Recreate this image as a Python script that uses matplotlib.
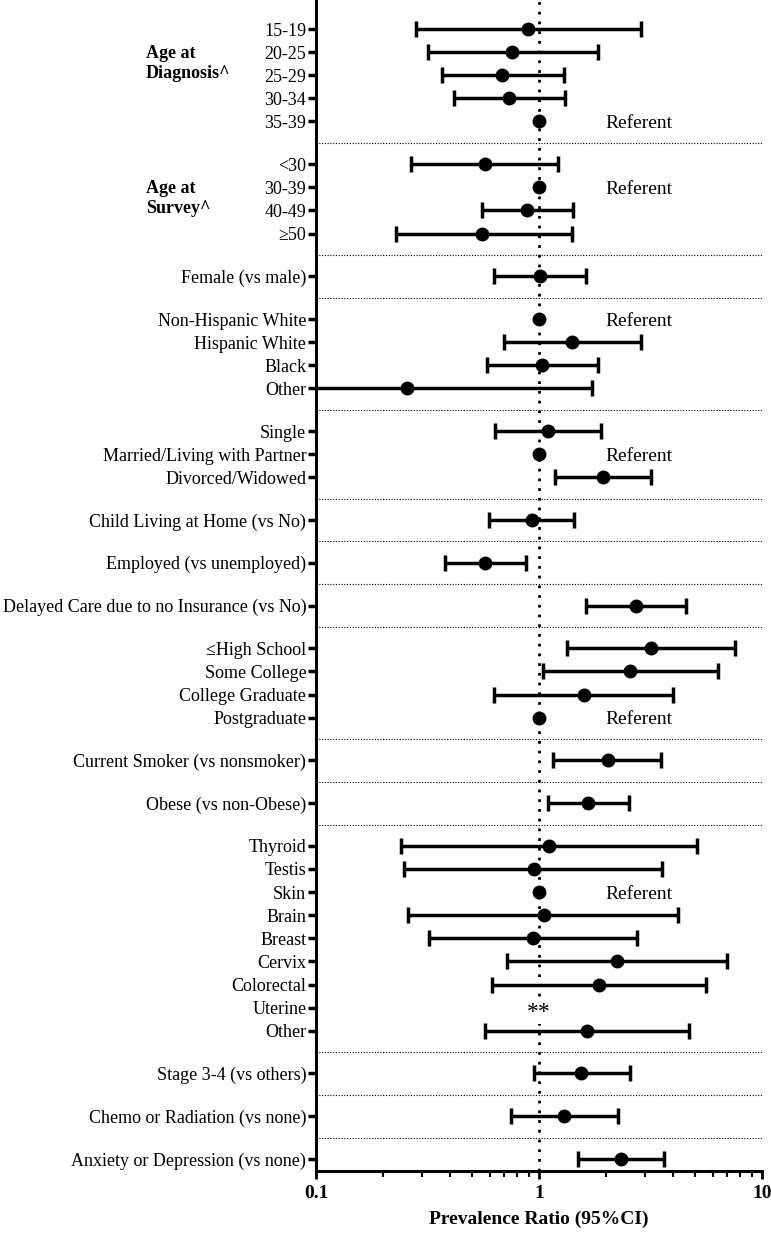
import numpy as np
import matplotlib
matplotlib.use("Agg")
import matplotlib.pyplot as plt

# ---------------- data ----------------
labels = ["15-19", "20-25", "25-29", "30-34", "35-39",
          "<30", "30-39", "40-49", "\u226550",
          "Female (vs male)",
          "Non-Hispanic White", "Hispanic White", "Black", "Other",
          "Single", "Married/Living with Partner", "Divorced/Widowed",
          "Child Living at Home (vs No)",
          "Employed (vs unemployed)",
          "Delayed Care due to no Insurance (vs No)",
          "\u2264High School", "Some College", "College Graduate", "Postgraduate",
          "Current Smoker (vs nonsmoker)",
          "Obese (vs non-Obese)",
          "Thyroid", "Testis", "Skin", "Brain", "Breast", "Cervix", "Colorectal", "Uterine", "Other",
          "Stage 3-4 (vs others)",
          "Chemo or Radiation (vs none)",
          "Anxiety or Depression (vs none)"]
group_sizes = [5, 4, 1, 4, 3, 1, 1, 1, 4, 1, 1, 9, 1, 1, 1]

pr = [0.89, 0.76, 0.68, 0.73, 1.0,
      0.57, 1.0, 0.88, 0.555,
      1.01,
      1.0, 1.41, 1.03, 0.257,
      1.10, 1.0, 1.93,
      0.93,
      0.575,
      2.71,
      3.19, 2.56, 1.59, 1.0,
      2.03,
      1.66,
      1.11, 0.946, 1.0, 1.05, 0.936, 2.23, 1.86, np.nan, 1.65,
      1.55,
      1.30,
      2.34]
lo = [0.281, 0.319, 0.369, 0.417, np.nan,
      0.268, np.nan, 0.557, 0.228,
      0.626,
      np.nan, 0.697, 0.586, 0.05,
      0.636, np.nan, 1.18,
      0.595,
      0.377,
      1.62,
      1.34, 1.04, 0.626, np.nan,
      1.16,
      1.10,
      0.240, 0.248, np.nan, 0.259, 0.320, 0.715, 0.617, np.nan, 0.575,
      0.946,
      0.748,
      1.49]
hi = [2.88, 1.84, 1.30, 1.31, np.nan,
      1.22, np.nan, 1.42, 1.40,
      1.62,
      np.nan, 2.86, 1.83, 1.72,
      1.89, np.nan, 3.19,
      1.44,
      0.876,
      4.57,
      7.56, 6.33, 3.98, np.nan,
      3.53,
      2.52,
      5.11, 3.56, np.nan, 4.21, 2.74, 6.97, 5.60, np.nan, 4.69,
      2.55,
      2.25,
      3.64]
referent_rows = ["35-39", "30-39", "Non-Hispanic White", "Married/Living with Partner",
                 "Postgraduate", "Skin"]
group_titles = {0: "Age at\nDiagnosis^", 1: "Age at\nSurvey^"}
referent_value = 1.0
xticks = [0.1, 1, 10]
xtick_labels = ["0.1", "1", "10"]

# ---------------- layout of rows ----------------
GAP = 1.85
ypos = []
seps = []
group_starts = []
y = 0.0
for gi, n in enumerate(group_sizes):
    if gi > 0:
        seps.append(y + GAP / 2.0)
        y += GAP
    group_starts.append(y)
    for k in range(n):
        if k > 0:
            y += 1.0
        ypos.append(y)
ypos = np.array(ypos)

plt.rcParams['font.family'] = ['Liberation Serif', 'DejaVu Serif']

fig = plt.figure(figsize=(7.71, 12.34), dpi=100)
ax = fig.add_axes([316 / 771, 63 / 1234, 446 / 771, 1171 / 1234])

pr_a = np.array(pr, dtype=float)
lo_a = np.array(lo, dtype=float)
hi_a = np.array(hi, dtype=float)
has_ci = ~np.isnan(lo_a)
ax.errorbar(pr_a[has_ci], ypos[has_ci],
            xerr=[pr_a[has_ci] - lo_a[has_ci], hi_a[has_ci] - pr_a[has_ci]],
            fmt='o', color='black', ms=9, elinewidth=2.5, capsize=6, capthick=2.5,
            zorder=5)
ref_mask = np.array([l in referent_rows for l in labels])
ax.plot(pr_a[ref_mask], ypos[ref_mask], 'o', color='black', ms=9, zorder=5)
for l, yy in zip(labels, ypos):
    if l in referent_rows:
        ax.text(1.98, yy, "Referent", fontsize=14, va='center_baseline', ha='left')
uter_idx = labels.index("Uterine")
ax.text(referent_value, ypos[uter_idx] + 0.2, "**", fontsize=17, va='center', ha='center',
        zorder=6, bbox=dict(boxstyle='square,pad=0.05', fc='white', ec='none'))

ax.axvline(referent_value, color='black', ls=(0, (1, 2.5)), lw=2, zorder=3)
for s in seps:
    ax.axhline(s, color='black', ls=(0, (1, 1.5)), lw=0.8, zorder=1)

ax.set_xscale('log')
ax.set_xlim(0.1, 10)
top_margin = 29 / 23.1
bot_margin = 12 / 23.1
ax.set_ylim(ypos[-1] + bot_margin, ypos[0] - top_margin)

ax.set_yticks(ypos)
ax.set_yticklabels(labels, fontsize=13)
ax.set_xticks(xticks)
ax.set_xticklabels(xtick_labels, fontsize=14, fontweight='bold')
ax.tick_params(axis='y', length=6, width=2.5, pad=1)
ax.tick_params(axis='x', which='major', length=6, width=2, pad=4)
ax.tick_params(axis='x', which='minor', length=4, width=1.5)
ax.xaxis.set_minor_formatter(matplotlib.ticker.NullFormatter())
ax.set_xlabel("Prevalence Ratio (95%CI)", fontsize=14, fontweight='bold', labelpad=6)

for sp in ['top', 'right']:
    ax.spines[sp].set_visible(False)
for sp in ['left', 'bottom']:
    ax.spines[sp].set_linewidth(2.2)

for gi, title in group_titles.items():
    ax.text(-0.382, group_starts[gi] + 1.5, title, transform=ax.get_yaxis_transform(),
            fontsize=13, fontweight='bold', ha='left', va='center', linespacing=1.25)

fig.savefig("out.png", dpi=100)
